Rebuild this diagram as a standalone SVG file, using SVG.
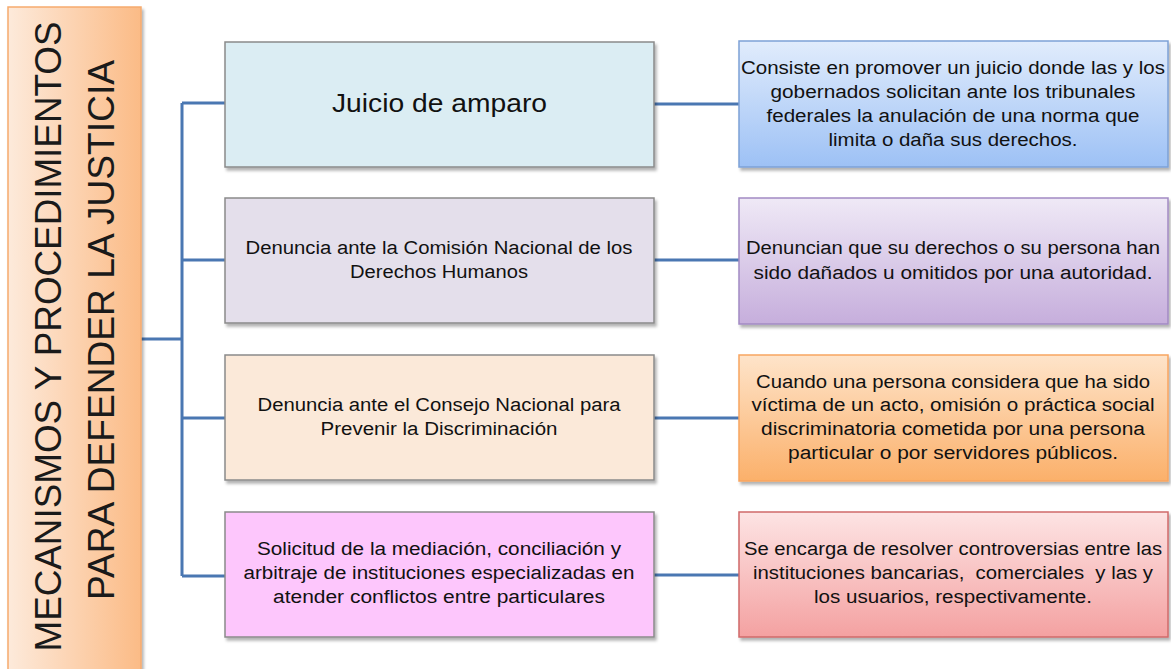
<svg xmlns="http://www.w3.org/2000/svg" width="1171" height="669" viewBox="0 0 1171 669">
<defs>
<linearGradient id="gLeft" x1="0" y1="0" x2="1" y2="0">
<stop offset="0" stop-color="#fdeadb"/><stop offset="1" stop-color="#fbbb86"/>
</linearGradient>
<linearGradient id="gBlue" x1="0" y1="0" x2="0" y2="1">
<stop offset="0" stop-color="#e1ecfc"/><stop offset="1" stop-color="#9dc1f5"/>
</linearGradient>
<linearGradient id="gPurple" x1="0" y1="0" x2="0" y2="1">
<stop offset="0" stop-color="#efe9f6"/><stop offset="1" stop-color="#c6aedc"/>
</linearGradient>
<linearGradient id="gOrange" x1="0" y1="0" x2="0" y2="1">
<stop offset="0" stop-color="#fee4ca"/><stop offset="1" stop-color="#fbb06a"/>
</linearGradient>
<linearGradient id="gRed" x1="0" y1="0" x2="0" y2="1">
<stop offset="0" stop-color="#fde4e4"/><stop offset="1" stop-color="#f4a1a1"/>
</linearGradient>
<filter id="sh" x="-5%" y="-10%" width="115%" height="130%">
<feDropShadow dx="2" dy="3" stdDeviation="1.8" flood-color="#000" flood-opacity="0.3"/>
</filter>
</defs>
<style>
.t{font-family:"Liberation Sans",Arial,sans-serif;font-size:18px;fill:#111;text-anchor:middle}
.big{font-size:25px}
.title{font-family:"Liberation Sans",Arial,sans-serif;font-size:37px;fill:#1a1a1a;text-anchor:middle}
.mid{stroke:#8a8a8a;stroke-width:1.5}
.conn{fill:none;stroke:#4a77b2;stroke-width:3}
</style>
<rect width="1171" height="669" fill="#fff"/>

<g id="connectors">
<path class="conn" d="M141 339 H182 M182 103 V576 M182 103 H225 M182 260 H225 M182 418 H225 M182 576 H225"/>
<path class="conn" d="M654 104 H739 M654 260 H739 M654 418 H739 M654 575 H739"/>
</g>

<g id="title">
<rect x="8" y="7" width="133" height="670" fill="url(#gLeft)" stroke="#f6ab6e" stroke-width="1.5" filter="url(#sh)"/>
<text class="title" transform="translate(61,336.5) rotate(-90)" textLength="630" lengthAdjust="spacingAndGlyphs">MECANISMOS Y PROCEDIMIENTOS</text>
<text class="title" transform="translate(114,330) rotate(-90)" textLength="540" lengthAdjust="spacingAndGlyphs">PARA DEFENDER LA JUSTICIA</text>
</g>

<g id="m1">
<rect class="mid" x="225" y="42" width="429" height="125" fill="#dbedf3" filter="url(#sh)"/>
<text class="t big" x="439.5" y="112" textLength="215" lengthAdjust="spacingAndGlyphs">Juicio de amparo</text>
</g>
<g id="m2">
<rect class="mid" x="225" y="198" width="429" height="125" fill="#e4dfeb" filter="url(#sh)"/>
<text class="t" x="439" y="254" textLength="387" lengthAdjust="spacingAndGlyphs">Denuncia ante la Comisión Nacional de los</text>
<text class="t" x="439" y="278" textLength="178" lengthAdjust="spacingAndGlyphs">Derechos Humanos</text>
</g>
<g id="m3">
<rect class="mid" x="225" y="355" width="429" height="125" fill="#fbe9d9" filter="url(#sh)"/>
<text class="t" x="439" y="411" textLength="363" lengthAdjust="spacingAndGlyphs">Denuncia ante el Consejo Nacional para</text>
<text class="t" x="439" y="435" textLength="237" lengthAdjust="spacingAndGlyphs">Prevenir la Discriminación</text>
</g>
<g id="m4">
<rect class="mid" x="225" y="512" width="429" height="125" fill="#fdc6fc" filter="url(#sh)"/>
<text class="t" x="439" y="555" textLength="364" lengthAdjust="spacingAndGlyphs">Solicitud de la mediación, conciliación y</text>
<text class="t" x="439" y="579" textLength="391" lengthAdjust="spacingAndGlyphs">arbitraje de instituciones especializadas en</text>
<text class="t" x="439" y="603" textLength="332" lengthAdjust="spacingAndGlyphs">atender conflictos entre particulares</text>
</g>

<g id="r1">
<rect x="739" y="41" width="429" height="126" fill="url(#gBlue)" stroke="#7da1d6" stroke-width="1.5" filter="url(#sh)"/>
<text class="t" x="953" y="74" textLength="424" lengthAdjust="spacingAndGlyphs">Consiste en promover un juicio donde las y los</text>
<text class="t" x="953" y="98" textLength="365" lengthAdjust="spacingAndGlyphs">gobernados solicitan ante los tribunales</text>
<text class="t" x="953" y="122" textLength="373" lengthAdjust="spacingAndGlyphs">federales la anulación de una norma que</text>
<text class="t" x="953" y="146" textLength="249" lengthAdjust="spacingAndGlyphs">limita o daña sus derechos.</text>
</g>
<g id="r2">
<rect x="739" y="198" width="429" height="126" fill="url(#gPurple)" stroke="#a28ac3" stroke-width="1.5" filter="url(#sh)"/>
<text class="t" x="953" y="254" textLength="414" lengthAdjust="spacingAndGlyphs">Denuncian que su derechos o su persona han</text>
<text class="t" x="953" y="279" textLength="399" lengthAdjust="spacingAndGlyphs">sido dañados u omitidos por una autoridad.</text>
</g>
<g id="r3">
<rect x="739" y="355" width="429" height="126" fill="url(#gOrange)" stroke="#f8a560" stroke-width="1.5" filter="url(#sh)"/>
<text class="t" x="953" y="388" textLength="394" lengthAdjust="spacingAndGlyphs">Cuando una persona considera que ha sido</text>
<text class="t" x="953" y="411" textLength="403" lengthAdjust="spacingAndGlyphs">víctima de un acto, omisión o práctica social</text>
<text class="t" x="953" y="435" textLength="384" lengthAdjust="spacingAndGlyphs">discriminatoria cometida por una persona</text>
<text class="t" x="953" y="459" textLength="330" lengthAdjust="spacingAndGlyphs">particular o por servidores públicos.</text>
</g>
<g id="r4">
<rect x="739" y="512" width="429" height="125" fill="url(#gRed)" stroke="#d06a6a" stroke-width="1.5" filter="url(#sh)"/>
<text class="t" x="953" y="555" textLength="418" lengthAdjust="spacingAndGlyphs">Se encarga de resolver controversias entre las</text>
<text class="t" x="953" y="579" textLength="400" lengthAdjust="spacingAndGlyphs" xml:space="preserve">instituciones bancarias,  comerciales  y las y</text>
<text class="t" x="953" y="603" textLength="278" lengthAdjust="spacingAndGlyphs">los usuarios, respectivamente.</text>
</g>
</svg>
